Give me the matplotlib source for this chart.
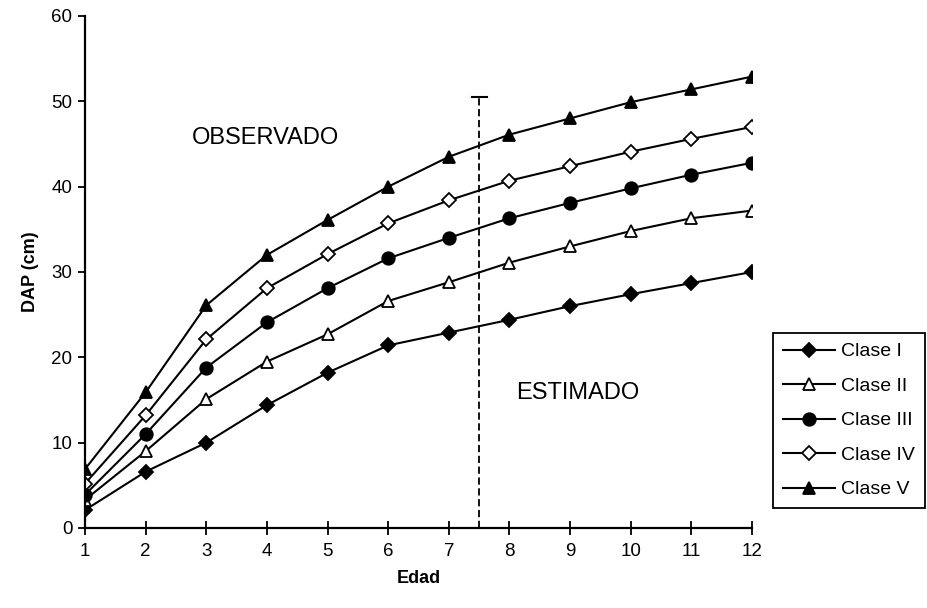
import matplotlib
matplotlib.use("Agg")
import matplotlib.pyplot as plt

plt.rcParams['font.family'] = ['Liberation Sans', 'DejaVu Sans']

# edad (years) and DAP (cm) for each class
edad = [1, 2, 3, 4, 5, 6, 7, 8, 9, 10, 11, 12]
clase_1 = [2.1, 6.6, 10.0, 14.4, 18.2, 21.4, 22.9, 24.4, 26.0, 27.4, 28.7, 30.0]
clase_2 = [3.3, 9.0, 15.1, 19.5, 22.7, 26.6, 28.8, 31.1, 33.0, 34.8, 36.3, 37.2]
clase_3 = [3.9, 11.0, 18.8, 24.1, 28.1, 31.6, 34.0, 36.3, 38.1, 39.8, 41.4, 42.8]
clase_4 = [5.2, 13.2, 22.1, 28.1, 32.1, 35.7, 38.4, 40.7, 42.4, 44.1, 45.6, 47.0]
clase_5 = [6.9, 15.9, 26.1, 32.0, 36.1, 40.0, 43.5, 46.1, 48.0, 49.9, 51.4, 52.9]
labels = ["Clase I", "Clase II", "Clase III", "Clase IV", "Clase V"]

corte_x = 7.5   # observed / estimated split
corte_top = 50.5

fig = plt.figure(figsize=(9.27, 6.08), dpi=100)
ax = fig.add_axes([85/927, 1 - 528/608, (752 - 85)/927, (528 - 16)/608])

series = [clase_1, clase_2, clase_3, clase_4, clase_5]
styles = [("D", "black", 7), ("^", "white", 9), ("o", "black", 9),
          ("D", "white", 7), ("^", "black", 9)]
for vals, lab, (m, fc, ms) in zip(series, labels, styles):
    ax.plot(edad, vals, color="black", lw=1.5, marker=m, markersize=ms,
            markerfacecolor=fc, markeredgecolor="black", markeredgewidth=1.3,
            label=lab)

# vertical dashed divider with cap
ax.plot([corte_x, corte_x], [0, corte_top], color="black", lw=1.3,
        linestyle=(0, (4, 2)))
ax.plot([corte_x - 0.12, corte_x + 0.13], [corte_top, corte_top],
        color="black", lw=1.5)

ax.text(3.97, 45.7, "OBSERVADO", fontsize=17, ha="center", va="center")
ax.text(9.12, 15.8, "ESTIMADO", fontsize=17, ha="center", va="center")

ax.set_xlim(1, 12)
ax.set_ylim(0, 60)
ax.set_xticks(edad)
ax.set_yticks([0, 10, 20, 30, 40, 50, 60])
ax.tick_params(axis="x", direction="inout", length=10, width=1.3,
               labelsize=13.5, pad=6)
ax.tick_params(axis="y", direction="out", length=5, width=1.3,
               labelsize=13.5, pad=4)
for s in ["top", "right"]:
    ax.spines[s].set_visible(False)
for s in ["left", "bottom"]:
    ax.spines[s].set_linewidth(1.6)
    ax.spines[s].set_clip_on(False)

ax.set_xlabel("Edad", fontsize=13, fontweight="bold", labelpad=7)
ax.set_ylabel("DAP (cm)", fontsize=13, fontweight="bold", labelpad=9)

leg = fig.legend(loc="upper left", bbox_to_anchor=(773/927, 1 - 333/608),
                 fontsize=14, frameon=True, fancybox=False, edgecolor="black",
                 framealpha=1, handlelength=2.7, labelspacing=0.87,
                 borderpad=0.5, handletextpad=0.3, borderaxespad=0)
leg.get_frame().set_linewidth(1.3)

fig.savefig("out.png", dpi=100)
